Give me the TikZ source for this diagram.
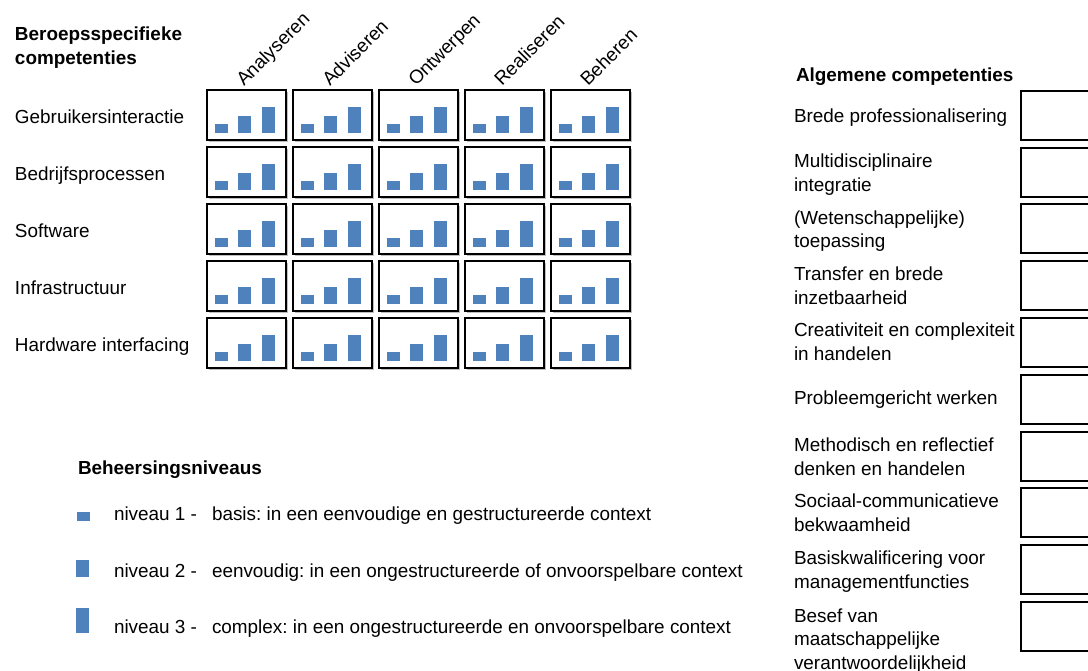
\documentclass[tikz,border=0pt]{standalone}
\usepackage{fontspec}
\setmainfont{Liberation Sans}
\usetikzlibrary{shadows}
\definecolor{barblue}{HTML}{4F81BD}
\begin{document}
\frenchspacing
\begin{tikzpicture}[x=1pt,y=-1pt,
  every node/.style={inner sep=0pt, outer sep=0pt, font=\fontsize{18.9}{23.8}\selectfont},
  lbl/.style={anchor=base west, align=left},
  head/.style={anchor=base west, align=left, font=\fontsize{18.9}{23.5}\selectfont\bfseries},
  cellbox/.style={draw=black, line width=2.4pt, fill=white, minimum width=79pt, minimum height=50pt,
    general shadow={fill=black!25, shadow xshift=2pt, shadow yshift=-2pt}},
  genbox/.style={draw=black, line width=2pt, fill=white, minimum width=79pt, minimum height=49pt},
  bar/.style={fill=barblue}]
\useasboundingbox (0,0) rectangle (1088,671);
\clip (0,0) rectangle (1088,671);
% left heading (anchor: baseline of last line)
\node[head] (h1) at (15,64.5) {Beroepsspecifieke\\competenties};
% column headers
\foreach \t [count=\j from 0] in {Analyseren,Adviseren,Ontwerpen,Realiseren,Beheren}
  \node[anchor=base west, rotate=45] (col\j) at (244+86*\j, 87) {\t};
% rows of cells
\foreach \t [count=\i from 0] in {Gebruikersinteractie,Bedrijfsprocessen,Software,Infrastructuur,Hardware interfacing} {
  \node[lbl] (row\i) at (15, 124+57*\i) {\t};
  \foreach \j in {0,...,4} {
    \node[cellbox] (c\i\j) at (246.5+86*\j, 115+57*\i) {};
    \fill[bar] ([shift={(8,-7)}]c\i\j.south west) rectangle +(13,-9);
    \fill[bar] ([shift={(31,-7)}]c\i\j.south west) rectangle +(13,-17);
    \fill[bar] ([shift={(55,-7)}]c\i\j.south west) rectangle +(13,-26);
  }
}
% general competences
\node[head] (h2) at (796,82) {Algemene competenties};
\foreach \i in {0,...,9}
  \node[genbox] (g\i) at (1060.5, 115.25+56.8*\i) {};
\node[lbl] (a0) at (794,123) {Brede professionalisering};
\node[lbl] (a1) at (794,191.5) {Multidisciplinaire\\integratie};
\node[lbl] (a2) at (794,248) {(Wetenschappelijke)\\toepassing};
\node[lbl] (a3) at (794,304.6) {Transfer en brede\\inzetbaarheid};
\node[lbl] (a4) at (794,360.5) {Creativiteit en complexiteit\\in handelen};
\node[lbl] (a5) at (794,404) {Probleemgericht werken};
\node[lbl] (a6) at (794,475) {Methodisch en reflectief\\denken en handelen};
\node[lbl] (a7) at (794,531.5) {Sociaal-communicatieve\\bekwaamheid};
\node[lbl] (a8) at (794,588) {Basiskwalificering voor\\managementfuncties};
\node[lbl] (a9) at (794,669.6) {Besef van\\maatschappelijke\\verantwoordelijkheid};
% legend
\node[head] (lh) at (78,474) {Beheersingsniveaus};
\fill[bar] (77,521) rectangle (90,512);
\fill[bar] (76,577) rectangle (89,560);
\fill[bar] (76,633) rectangle (89,608);
\node[lbl] (n1) at (114,520) {niveau 1 -};
\node[lbl] (n2) at (114,577) {niveau 2 -};
\node[lbl] (n3) at (114,633) {niveau 3 -};
\node[lbl] (d1) at (212,520) {basis: in een eenvoudige en gestructureerde context};
\node[lbl] (d2) at (212,577) {eenvoudig: in een ongestructureerde of onvoorspelbare context};
\node[lbl] (d3) at (212,633) {complex: in een ongestructureerde en onvoorspelbare context};
\end{tikzpicture}
\end{document}
